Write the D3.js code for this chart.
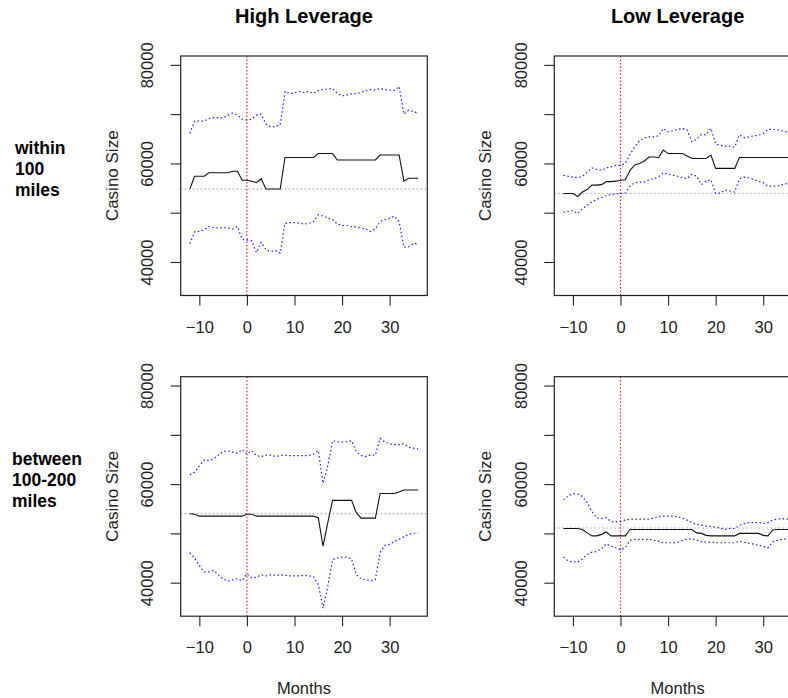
<!DOCTYPE html>
<html>
<head>
<meta charset="utf-8">
<script src="https://cdn.jsdelivr.net/npm/d3@7"></script>
<style>
  html, body { margin: 0; padding: 0; background: #fff; overflow: hidden; }
  svg { display: block; font-family: "Liberation Sans", Arial, sans-serif; }
</style>
</head>
<body>
<div id="chart"></div>
<script>
// Months relative to event
const months = [-12, -11, -10, -9, -8, -7, -6, -5, -4, -3, -2, -1, 0, 1, 2, 3, 4, 5, 6, 7, 8, 9, 10, 11, 12,
  13, 14, 15, 16, 17, 18, 19, 20, 21, 22, 23, 24, 25, 26, 27, 28, 29, 30, 31, 32, 33, 34, 35, 36];

// High leverage, within 100 miles
const hiNearEst = [54800, 57400, 57400, 57400, 58100, 58100, 58100, 58100, 58100, 58400, 58400, 56600,
  56600, 56400, 56100, 56900, 54800, 54800, 54800, 54800, 61200, 61200, 61200, 61200, 61200, 61200, 61200,
  62000, 62000, 62000, 62000, 60700, 60700, 60700, 60700, 60700, 60700, 60700, 60700, 60700,
  61700, 61700, 61700, 61700, 61700, 56400, 57000, 57000, 57000];
const hiNearUpper = [66100, 68600, 68600, 68600, 69100, 69300, 69300, 69200, 69800, 70200, 69800, 69000,
  68800, 69000, 69800, 70000, 68000, 67400, 67500, 67800, 74600, 74200, 74300, 74600, 74400, 74600, 74200,
  74800, 75000, 75100, 75200, 74200, 73700, 73900, 74100, 74200, 74400, 74800, 75000, 74900,
  75200, 75000, 74900, 74800, 75600, 70000, 70800, 70500, 70200];
const hiNearLower = [43700, 46100, 46200, 46500, 47200, 47000, 46900, 47000, 46900, 46700, 47200, 44600,
  44500, 44300, 41900, 44000, 42500, 42100, 42300, 41800, 47800, 48000, 48000, 47900, 47700, 47800, 48200,
  49600, 49300, 48900, 48600, 47700, 47400, 47400, 47200, 47100, 46900, 46700, 46200, 46700,
  48200, 48600, 48900, 49300, 48200, 43000, 43100, 43800, 43700];

// Low leverage, within 100 miles
const loNearEst = [53900, 53900, 53900, 53300, 54200, 54700, 55600, 55600, 55700, 56300, 56300, 56400,
  56600, 56700, 58600, 59700, 60000, 60500, 61300, 61300, 61200, 62700, 62000, 62000, 62000, 62000, 61500,
  61000, 61000, 61000, 61000, 61700, 59000, 59000, 59000, 59000, 59000,
  61200, 61200, 61200, 61200, 61200, 61200, 61200, 61200, 61200, 61200, 61200, 61200];
const loNearUpper = [57600, 57400, 57200, 57100, 57400, 58200, 59100, 58800, 58600, 59100, 59300, 59600,
  59600, 60000, 61800, 63400, 64600, 65200, 65400, 65400, 65600, 67100, 66400, 66600, 66900, 67100, 66800,
  64400, 64900, 65900, 65800, 67100, 63900, 63700, 63500, 63500, 63300,
  65800, 65200, 65400, 65600, 65700, 66100, 66900, 66900, 66800, 66600, 66400, 66400];
const loNearLower = [50100, 50300, 50400, 49800, 50800, 51500, 52200, 52700, 53100, 53500, 53700, 53800,
  53900, 54000, 55400, 56100, 56200, 56200, 56700, 56900, 57300, 58100, 57800, 57600, 57400, 57100, 56900,
  57800, 57400, 55700, 56400, 56700, 53900, 54000, 54600, 54400, 54200,
  56900, 57200, 57100, 56700, 56400, 56100, 55400, 55400, 55400, 55700, 55900, 55900];

// High leverage, between 100-200 miles
const hiFarEst = [54000, 53900, 53500, 53500, 53500, 53500, 53500, 53500, 53500, 53500, 53500, 53500,
  53900, 53900, 53500, 53500, 53500, 53500, 53500, 53500, 53500, 53500, 53500, 53500, 53500, 53500, 53500,
  53200, 47400, 52200, 56700, 56700, 56700, 56700, 56700, 54200, 53100, 53100, 53100, 53100,
  58100, 58100, 58100, 58100, 58400, 58800, 58800, 58800, 58800];
const hiFarUpper = [61900, 62400, 63700, 64900, 64800, 65100, 65900, 66600, 66800, 66500, 66300, 67000,
  66100, 66800, 65800, 65600, 65900, 65900, 65600, 65800, 65900, 65800, 65800, 65800, 65800, 65800, 66100,
  66800, 60200, 63700, 68800, 68600, 68500, 68600, 68800, 66600, 65800, 65600, 65900, 65900,
  69300, 68500, 68200, 68000, 68000, 68200, 67500, 67300, 67100];
const hiFarLower = [46100, 45000, 43500, 42200, 42200, 42500, 41600, 40800, 40300, 40600, 40800, 40400,
  41800, 41000, 41100, 41600, 41400, 41600, 41500, 41600, 41500, 41400, 41400, 41400, 41500, 41400, 41200,
  39600, 34800, 39300, 44700, 45000, 45200, 45200, 44800, 41600, 40800, 40600, 40400, 40600,
  46100, 47600, 47800, 48400, 48800, 49300, 49800, 50000, 50100];

// Low leverage, between 100-200 miles
const loFarEst = [51000, 51000, 51000, 51000, 50800, 50100, 49500, 49500, 49800, 50300, 49500, 49500,
  49500, 49500, 50800, 50800, 50800, 50800, 50800, 50800, 50800, 50800, 50800, 50800, 50800, 50800, 50800,
  50800, 50100, 50000, 49600, 49500, 49500, 49500, 49500, 49500, 49500,
  50000, 50000, 50000, 50000, 50000, 49600, 49500, 50700, 50800, 50800, 50800, 50800];
const loFarUpper = [56800, 57600, 58100, 58000, 57500, 56300, 54400, 53200, 53000, 53200, 52400, 52400,
  52400, 52700, 52900, 52900, 52900, 52900, 52900, 53100, 53400, 53500, 53500, 53500, 53400, 53100, 52700,
  52200, 51800, 51700, 51500, 51400, 51300, 51000, 50800, 51000, 51000,
  51600, 52000, 52200, 52200, 52200, 52000, 52200, 52700, 52900, 53000, 52900, 52900];
const loFarLower = [45200, 44400, 44200, 44200, 44800, 45700, 46200, 46300, 46900, 47900, 47400, 47100,
  46700, 47100, 48600, 48800, 48800, 48800, 48800, 48600, 48400, 48100, 48100, 48100, 48200, 48600, 48900,
  48900, 48600, 48300, 48300, 48200, 48100, 48100, 48100, 48100, 48100,
  48400, 48200, 48000, 47800, 47600, 47400, 47100, 48300, 48600, 48800, 48900, 48900];

// Reference (pre-period) levels, dotted gray lines
const refLevels = [54800, 53900, 54000, 51100];

const colTitles = ["High Leverage", "Low Leverage"];
const rowTitles = [["within", "100", "miles"], ["between", "100-200", "miles"]];
const xTicks = [-10, 0, 10, 20, 30];
const yTicks = [40000, 50000, 60000, 70000, 80000];
const yTickLabels = ["40000", "", "60000", "", "80000"];
const xLim = [-12, 36];
const yLim = [35000, 80000];

// Layout
const W = 788;
const H = 698;
const BOX_X = [180.7, 554.3];
const BOX_Y = [56, 376.7];
const BOX_W = 246.6;
const BOX_H = 239.5;
const TICK = 10;

const panels = [
  { row: 0, col: 0, est: hiNearEst, upper: hiNearUpper, lower: hiNearLower, ref: refLevels[0] },
  { row: 0, col: 1, est: loNearEst, upper: loNearUpper, lower: loNearLower, ref: refLevels[1] },
  { row: 1, col: 0, est: hiFarEst, upper: hiFarUpper, lower: hiFarLower, ref: refLevels[2] },
  { row: 1, col: 1, est: loFarEst, upper: loFarUpper, lower: loFarLower, ref: refLevels[3] },
];

// R style 4% axis extension
function extend(lim) {
  const d = (lim[1] - lim[0]) * 0.04;
  return [lim[0] - d, lim[1] + d];
}

const svg = d3.select("#chart").append("svg").attr("width", W).attr("height", H);

panels.forEach((p, i) => {
  const x0 = BOX_X[p.col];
  const y0 = BOX_Y[p.row];
  const x = d3.scaleLinear().domain(extend(xLim)).range([x0, x0 + BOX_W]);
  const y = d3.scaleLinear().domain(extend(yLim)).range([y0 + BOX_H, y0]);

  const g = svg.append("g");
  g.append("clipPath").attr("id", "clip" + i)
    .append("rect").attr("x", x0).attr("y", y0).attr("width", BOX_W).attr("height", BOX_H);
  const plot = g.append("g").attr("clip-path", "url(#clip" + i + ")");

  // reference lines
  plot.append("line")
    .attr("x1", x0).attr("x2", x0 + BOX_W)
    .attr("y1", y(p.ref)).attr("y2", y(p.ref))
    .attr("stroke", "#aaaaaa").attr("stroke-width", 1.2).attr("stroke-dasharray", "1.5,2.5");
  plot.append("line")
    .attr("x1", x(0)).attr("x2", x(0))
    .attr("y1", y0).attr("y2", y0 + BOX_H)
    .attr("stroke", "#ff1a1a").attr("stroke-width", 1.2).attr("stroke-dasharray", "1.5,2");

  const line = (vals) => d3.line().x((d, j) => x(months[j])).y((d) => y(d))(vals);

  [p.upper, p.lower].forEach((band) => {
    plot.append("path").attr("d", line(band))
      .attr("fill", "none").attr("stroke", "#1a1aff")
      .attr("stroke-width", 1.2).attr("stroke-dasharray", "1.5,2.5");
  });
  plot.append("path").attr("d", line(p.est))
    .attr("fill", "none").attr("stroke", "#111").attr("stroke-width", 1.1);

  // box
  g.append("rect")
    .attr("x", x0).attr("y", y0).attr("width", BOX_W).attr("height", BOX_H)
    .attr("fill", "none").attr("stroke", "#222").attr("stroke-width", 1.2);

  // axes
  const ax = g.append("g").attr("transform", "translate(0," + (y0 + BOX_H) + ")")
    .call(d3.axisBottom(x).tickValues(xTicks).tickSize(TICK).tickSizeOuter(0).tickFormat(d3.format("d")));
  ax.select(".domain").remove();
  ax.selectAll(".tick line").attr("stroke", "#222").attr("stroke-width", 1.1);
  ax.selectAll(".tick text")
    .attr("y", 37).attr("dy", null)
    .attr("font-size", "16.5px").attr("fill", "#222").attr("font-family", null);

  const ay = g.append("g").attr("transform", "translate(" + x0 + ",0)")
    .call(d3.axisLeft(y).tickValues(yTicks).tickSize(TICK).tickSizeOuter(0)
      .tickFormat((d, j) => yTickLabels[j]));
  ay.select(".domain").remove();
  ay.selectAll(".tick line").attr("stroke", "#222").attr("stroke-width", 1.1);
  ay.selectAll(".tick text")
    .attr("x", 0).attr("y", -27.5).attr("dy", null)
    .attr("transform", "rotate(-90)")
    .attr("text-anchor", "middle")
    .attr("font-size", "16.5px").attr("fill", "#222").attr("font-family", null);

  // y label
  const cy = y0 + BOX_H / 2;
  g.append("text")
    .attr("transform", "translate(" + (x0 - 63) + "," + cy + ") rotate(-90)")
    .attr("text-anchor", "middle")
    .attr("font-size", "17px").attr("fill", "#222")
    .text("Casino Size");

  if (p.row === 1) {
    g.append("text")
      .attr("x", x0 + BOX_W / 2).attr("y", 694)
      .attr("text-anchor", "middle")
      .attr("font-size", "16.5px").attr("fill", "#222")
      .text("Months");
  }
});

// column titles
colTitles.forEach((t, c) => {
  svg.append("text")
    .attr("x", BOX_X[c] + BOX_W / 2).attr("y", 23)
    .attr("text-anchor", "middle")
    .attr("font-size", "20px").attr("font-weight", "bold").attr("fill", "#000")
    .text(t);
});

// row titles
const rowX = [15, 12];
const rowBase = [154, 465];
rowTitles.forEach((lines, r) => {
  const t = svg.append("text")
    .attr("font-size", "17.5px").attr("font-weight", "bold").attr("fill", "#000");
  lines.forEach((s, k) => {
    t.append("tspan").attr("x", rowX[r]).attr("y", rowBase[r] + k * 21).text(s);
  });
});
</script>
</body>
</html>
